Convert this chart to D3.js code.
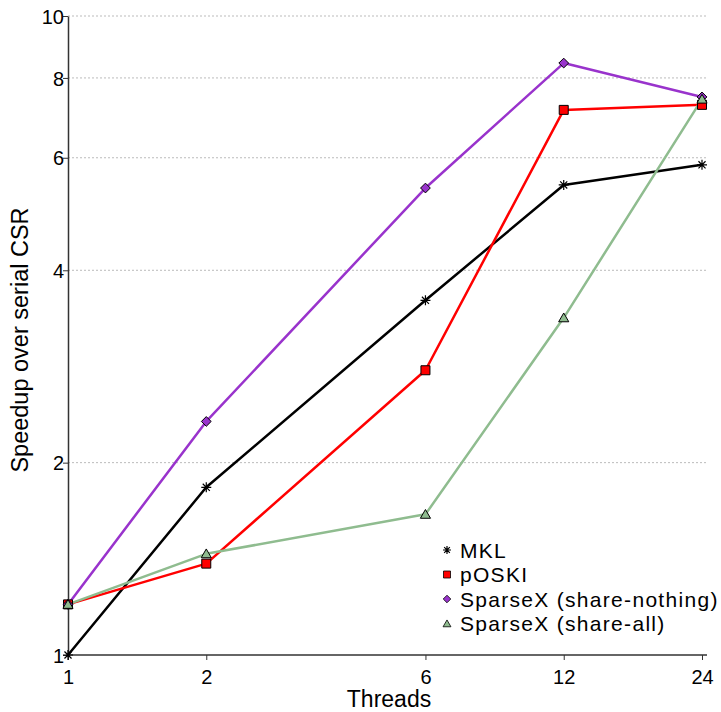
<!DOCTYPE html>
<html>
<head>
<meta charset="utf-8">
<title>Speedup</title>
<script src="https://d3js.org/d3.v7.min.js"></script>
<style>
  body { margin: 0; background: #fff; }
  text { font-family: "Liberation Sans", Arial, sans-serif; }
</style>
</head>
<body>
<div id="chart"></div>
<script>
// data
var threads = [1, 2, 6, 12, 24];
var mkl = [1.0, 1.83, 3.59, 5.44, 5.85];
var poski = [1.2, 1.39, 2.79, 7.13, 7.26];
var sxNothing = [1.2, 2.32, 5.38, 8.44, 7.47];
var sxAll = [1.2, 1.44, 1.66, 3.37, 7.41];
var yTicks = [1, 2, 4, 6, 8, 10];

var series = [
  {name: "MKL", values: mkl, color: "#000000", shape: "star"},
  {name: "pOSKI", values: poski, color: "#ff0000", shape: "square"},
  {name: "SparseX (share-nothing)", values: sxNothing, color: "#9933cc", shape: "diamond"},
  {name: "SparseX (share-all)", values: sxAll, color: "#8fbc8f", shape: "triangle"}
];

var W = 721, H = 712;
var margin = {top: 16, right: 19, bottom: 57, left: 68};

var svg = d3.select("#chart").append("svg")
  .attr("width", W).attr("height", H);

var x = d3.scaleLog().base(2).domain([1, 24]).range([margin.left, W - margin.right]);
var y = d3.scaleLog().domain([1, 10]).range([H - margin.bottom, margin.top]);

// grid
svg.append("g").selectAll("line").data(yTicks.slice(1)).join("line")
  .attr("x1", margin.left).attr("x2", W - margin.right + 5)
  .attr("y1", d => y(d)).attr("y2", d => y(d))
  .attr("stroke", "#bbb").attr("stroke-width", 1).attr("stroke-dasharray", "2,2");

// axes
var xAxis = svg.append("g")
  .attr("transform", "translate(0," + (H - margin.bottom) + ")")
  .call(d3.axisBottom(x).tickValues(threads).tickFormat(d3.format("d")).tickSize(5).tickSizeOuter(0));
xAxis.select(".domain").attr("d", "M" + margin.left + ",0H" + (W - margin.right + 5)).attr("stroke", "#333").attr("stroke-width", 1.5);
xAxis.selectAll(".tick line").attr("stroke", "#333");
xAxis.selectAll("text").attr("font-size", 20).attr("fill", "#000").attr("dy", "1.05em");

var yAxis = svg.append("g")
  .attr("transform", "translate(" + margin.left + ",0)")
  .call(d3.axisLeft(y).tickValues(yTicks).tickFormat(d3.format("d")).tickSize(5).tickSizeOuter(0));
yAxis.select(".domain").attr("stroke", "#333").attr("stroke-width", 1.5);
yAxis.selectAll(".tick line").attr("stroke", "#333");
yAxis.selectAll("text").attr("font-size", 20).attr("fill", "#000").attr("x", -4).attr("dy", "0.36em");

// axis titles
svg.append("text")
  .attr("x", (margin.left + W - margin.right) / 2 + 4).attr("y", 707)
  .attr("text-anchor", "middle").attr("font-size", 23).text("Threads");
svg.append("text")
  .attr("transform", "translate(28,340) rotate(-90)")
  .attr("text-anchor", "middle").attr("font-size", 23.5).text("Speedup over serial CSR");

function marker(sel, shape, size) {
  var s = size;
  if (shape === "star") {
    var p = "";
    for (var i = 0; i < 4; i++) {
      var a = i * Math.PI / 4;
      var dx = Math.cos(a) * s / 2, dy = Math.sin(a) * s / 2;
      p += "M" + (-dx) + "," + (-dy) + "L" + dx + "," + dy;
    }
    sel.append("path").attr("d", p).attr("stroke", "#000").attr("stroke-width", 1.2).attr("fill", "none");
  } else {
    var sym = shape === "square" ? d3.symbolSquare : shape === "diamond" ? d3.symbolDiamond2 : d3.symbolTriangle;
    var area = shape === "square" ? s * s : shape === "diamond" ? s * s * 0.75 : s * s * 0.55;
    sel.append("path").attr("d", d3.symbol().type(sym).size(area)())
      .attr("transform", shape === "triangle" ? "translate(0,1)" : null);
  }
}

var line = d3.line().x((d, i) => x(threads[i])).y(d => y(d));

// lines
series.forEach(function (s) {
  svg.append("path").datum(s.values)
    .attr("fill", "none").attr("stroke", s.color).attr("stroke-width", 2.5)
    .attr("stroke-linejoin", "round").attr("d", line);
});

// markers on top
series.forEach(function (s) {
  s.values.forEach(function (v, i) {
    var g = svg.append("g").attr("transform", "translate(" + x(threads[i]) + "," + y(v) + ")")
      .attr("fill", s.color).attr("stroke", "#000").attr("stroke-width", 1);
    marker(g, s.shape, s.shape === "star" ? 10 : 9);
  });
});

// legend
var leg = svg.append("g").attr("transform", "translate(447,550)");
series.forEach(function (s, i) {
  var row = leg.append("g").attr("transform", "translate(0," + (i * 24.5) + ")");
  var m = row.append("g").attr("fill", s.color).attr("stroke", "#000").attr("stroke-width", 0.8);
  marker(m, s.shape, s.shape === "star" ? 8 : 7);
  row.append("text").attr("x", 13).attr("y", 0).attr("dy", "0.36em")
    .attr("font-size", 21).attr("letter-spacing", 1.3).text(s.name);
});
</script>
</body>
</html>
